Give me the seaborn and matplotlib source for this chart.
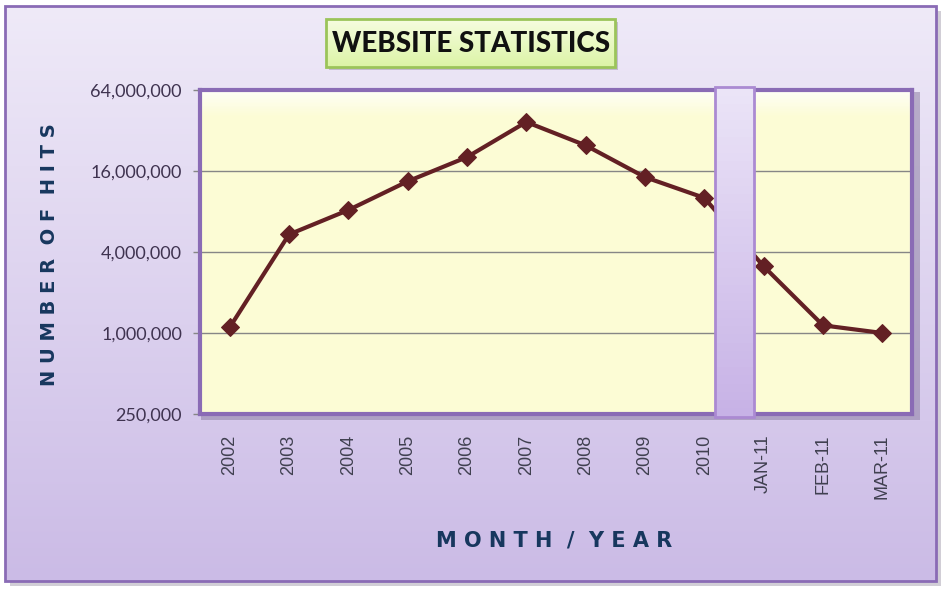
import numpy as np
import pandas as pd
import matplotlib
matplotlib.use('Agg')
import matplotlib.pyplot as plt
import matplotlib.ticker as mticker
import matplotlib.transforms as mtransforms
from matplotlib.colors import LinearSegmentedColormap, to_rgb
from matplotlib.patches import Rectangle
import seaborn as sns

# Data
periods = ['2002', '2003', '2004', '2005', '2006', '2007', '2008', '2009', '2010',
           'JAN-11', 'FEB-11', 'MAR-11']
hits = [1100000, 5400000, 8200000, 13400000, 20300000, 37000000, 24800000,
        14400000, 10100000, 3130000, 1140000, 1000000]
y_ticks = [250000, 1000000, 4000000, 16000000, 64000000]

W, H = 950, 595


def fx(x):
    return x / W


def fy(y):
    return 1 - y / H


def mix(c1, c2, t):
    a, b = np.array(to_rgb(c1)), np.array(to_rgb(c2))
    return tuple(a + (b - a) * t)


sns.set_theme(style='white')
plt.rcParams['font.family'] = ['DejaVu Sans']

fig = plt.figure(figsize=(9.5, 5.95), dpi=100)
fig.patch.set_facecolor('white')

# Background layer in pixel coordinates
bg = fig.add_axes([0, 0, 1, 1], zorder=-10)
bg.axis('off')
bg.add_patch(Rectangle((10, 11), 931, 575, color='#9a94a6', alpha=0.45, lw=0))
grad = np.linspace(0, 1, 256).reshape(-1, 1)
cmap_bg = LinearSegmentedColormap.from_list('bg', ['#efeaf8', '#cbbbe6'])
bg.imshow(grad, cmap=cmap_bg, extent=(5, 936, 581, 6), aspect='auto', zorder=1)
bg.add_patch(Rectangle((5, 6), 931, 575, fill=False, ec='#8a6bb5', lw=2, zorder=3))

# shadow behind plot area
bg.add_patch(Rectangle((201, 92), 719, 328, color='#8e80a4', alpha=0.55, lw=0, zorder=2))

# title box
bg.add_patch(Rectangle((329, 22), 289, 48, color='#a8a0b4', alpha=0.6, lw=0, zorder=2))
cmap_t = LinearSegmentedColormap.from_list('t', ['#f6fde0', '#dcf4a6'])
bg.imshow(grad, cmap=cmap_t, extent=(326, 615, 67, 19), aspect='auto', zorder=3)
bg.add_patch(Rectangle((326, 19), 289, 48, fill=False, ec='#9bc45a', lw=2, zorder=4))
bg.set_xlim(0, W)
bg.set_ylim(H, 0)

fig.text(fx(471), fy(44), 'WEBSITE STATISTICS', ha='center', va='center',
         fontsize=20, fontweight='black', family=['Lato', 'DejaVu Sans'], color='#111111')

# Main chart
ax = fig.add_axes([fx(200), fy(414), (912 - 200) / W, (414 - 90) / H])
ax.set_facecolor('#fcfcd5')

df = pd.DataFrame({'pos': np.arange(len(periods)), 'hits': hits})
sns.lineplot(data=df, x='pos', y='hits', ax=ax, color='#632024', lw=3,
             marker='D', markersize=9, markeredgecolor='#632024', zorder=3)

ax.set_yscale('log', base=2)
ax.set_ylim(y_ticks[0], y_ticks[-1])
ax.set_yticks(y_ticks)
ax.yaxis.set_major_formatter(mticker.FuncFormatter(lambda v, p: f'{v:,.0f}'))
ax.yaxis.set_minor_locator(mticker.NullLocator())
ax.set_xlim(-0.5, len(periods) - 0.5)
ax.set_xticks(df['pos'])
ax.set_xticklabels(periods, rotation=90, va='top', ha='center',
                   family=['Liberation Sans', 'DejaVu Sans'])
ax.set_xlabel('')
ax.set_ylabel('')

ax.yaxis.grid(True, color='#868686', lw=1, zorder=1)
ax.xaxis.grid(False)
ax.tick_params(axis='y', left=True, length=5, width=1, color='#868686',
               labelsize=13, labelcolor='#3f3350', pad=8)
for lab in ax.get_yticklabels():
    lab.set_family(['Lato', 'DejaVu Sans'])
ax.tick_params(axis='x', bottom=False, length=0, labelsize=13,
               labelcolor='#404050', pad=15)

for sp in ax.spines.values():
    sp.set_color('#8a6bb5')
    sp.set_linewidth(3)

# top highlight inside plot area
for i in range(20):
    ax.add_patch(Rectangle((0, 1 - (i + 1) * 0.004), 1, 0.004, transform=ax.transAxes,
                           color='white', alpha=0.8 * (1 - i / 20), lw=0, zorder=0.5))

# vertical break band between 2010 and JAN-11
trans = mtransforms.blended_transform_factory(ax.transData, ax.transAxes)
x0, x1 = 8.18, 8.84
n = 40
for i in range(n):
    y0 = 1.008 - (i + 1) * (1.016 / n)
    ax.add_patch(Rectangle((x0, y0), x1 - x0, 1.016 / n, transform=trans,
                           color=mix('#ebe4f7', '#c7b2e6', i / (n - 1)),
                           lw=0, zorder=5, clip_on=False))
ax.add_patch(Rectangle((x0, -0.008), x1 - x0, 1.016, transform=trans, fill=False,
                       ec='#ab8ad2', lw=2, zorder=6, clip_on=False))

# axis titles
fig.text(fx(554), fy(541), 'M O N T H  /  Y E A R', ha='center', va='center',
         fontsize=15, fontweight='bold', color='#17375e')
fig.text(fx(50), fy(255), 'N U M B E R  O F  H I T S', ha='center', va='center',
         rotation=90, fontsize=14, fontweight='bold', color='#17375e')

fig.savefig('out.png', dpi=100)
